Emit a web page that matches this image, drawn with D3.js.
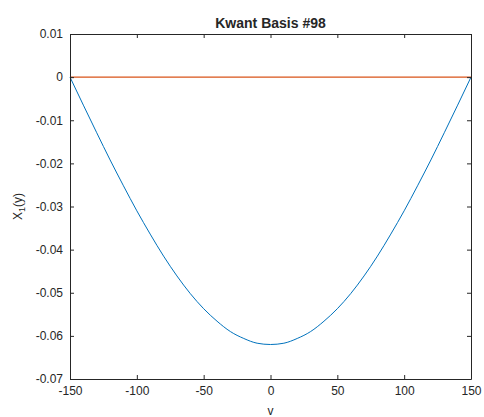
<!DOCTYPE html>
<html lang="en">
<head>
<meta charset="UTF-8">
<title>Kwant Basis #98</title>
<script src="https://d3js.org/d3.v7.min.js"></script>
<style>
    body { margin: 0; background: #fff; }
    text { font-family: "Liberation Sans", Arial, sans-serif; fill: #262626; }
    .axis path, .axis line { stroke: #262626; }
</style>
</head>
<body>
<script>
    // values
    const xs = [-150, -140, -130, -120, -110, -100, -90, -80, -70, -60, -50, -40, -30, -20, -10, 0,
                10, 20, 30, 40, 50, 60, 70, 80, 90, 100, 110, 120, 130, 140, 150];
    const blueVals = [0, -0.0065, -0.0129, -0.0192, -0.0252, -0.0310, -0.0364, -0.0415, -0.0461, -0.0502, -0.0537, -0.0566, -0.0590, -0.0606, -0.0617, -0.0620,
                      -0.0617, -0.0606, -0.0590, -0.0566, -0.0537, -0.0502, -0.0461, -0.0415, -0.0364, -0.0310, -0.0252, -0.0192, -0.0129, -0.0065, 0];
    const orangeVals = xs.map(() => 0);
    const xTicks = [-150, -100, -50, 0, 50, 100, 150];
    const yTicks = [0.01, 0, -0.01, -0.02, -0.03, -0.04, -0.05, -0.06, -0.07];

    const width = 484, height = 417;
    const margin = {left: 70, right: 13, top: 34, bottom: 38};

    const svg = d3.select("body").append("svg")
        .attr("width", width).attr("height", height);

    const x = d3.scaleLinear().domain([-150, 150]).range([margin.left, width - margin.right]);
    const y = d3.scaleLinear().domain([-0.07, 0.01]).range([height - margin.bottom, margin.top]);

    const fmt = d => d === 0 ? "0" : String(+d.toFixed(2));

    const line = d3.line().x(d => x(d[0])).y(d => y(d[1])).curve(d3.curveMonotoneX);

    svg.append("path")
        .datum(xs.map((v, i) => [v, blueVals[i]]))
        .attr("d", line).attr("fill", "none")
        .attr("stroke", "#0072BD").attr("stroke-width", 1);

    svg.append("path")
        .datum(xs.map((v, i) => [v, orangeVals[i]]))
        .attr("d", line).attr("fill", "none")
        .attr("stroke", "#D95319").attr("stroke-width", 1.2);

    // axes, ticks pointing inward
    svg.append("g").attr("class", "axis")
        .attr("transform", `translate(0,${y(-0.07)})`)
        .call(d3.axisBottom(x).tickValues(xTicks).tickSizeInner(-4).tickSizeOuter(0).tickPadding(7).tickFormat(d => String(d)))
        .call(g => g.selectAll("text").attr("font-size", 12).attr("fill", "#262626"));

    svg.append("g").attr("class", "axis")
        .attr("transform", `translate(0,${y(0.01)})`)
        .call(d3.axisTop(x).tickValues(xTicks).tickSizeInner(-4).tickSizeOuter(0).tickFormat(""));

    svg.append("g").attr("class", "axis")
        .attr("transform", `translate(${x(-150)},0)`)
        .call(d3.axisLeft(y).tickValues(yTicks).tickSizeInner(-4).tickSizeOuter(0).tickPadding(7).tickFormat(fmt))
        .call(g => g.selectAll("text").attr("font-size", 12).attr("fill", "#262626"));

    svg.append("g").attr("class", "axis")
        .attr("transform", `translate(${x(150)},0)`)
        .call(d3.axisRight(y).tickValues(yTicks).tickSizeInner(-4).tickSizeOuter(0).tickFormat(""));

    svg.append("text")
        .attr("x", (x(-150) + x(150)) / 2).attr("y", 28)
        .attr("text-anchor", "middle").attr("font-size", 14).attr("font-weight", "bold")
        .attr("fill", "#000")
        .text("Kwant Basis #98");

    svg.append("text")
        .attr("x", (x(-150) + x(150)) / 2).attr("y", 415)
        .attr("text-anchor", "middle").attr("font-size", 12)
        .text("v");

    const yl = svg.append("text")
        .attr("transform", `translate(22,${(y(0.01) + y(-0.07)) / 2}) rotate(-90)`)
        .attr("text-anchor", "middle").attr("font-size", 12);
    yl.append("tspan").text("X");
    yl.append("tspan").attr("font-size", 9).attr("dy", 3).text("1");
    yl.append("tspan").attr("dy", -3).text("(y)");
</script>
</body>
</html>
